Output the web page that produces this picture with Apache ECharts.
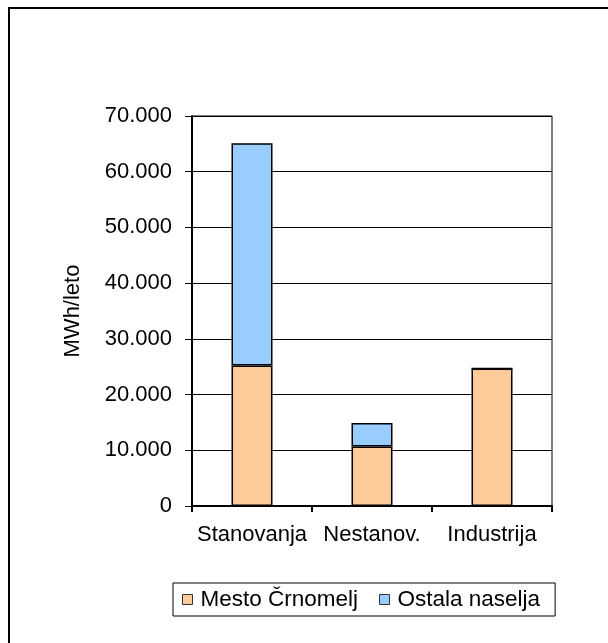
<!DOCTYPE html>
<html>
<head>
<meta charset="utf-8">
<script src="https://cdn.jsdelivr.net/npm/echarts@6/dist/echarts.min.js"></script>
<style>
html,body{margin:0;padding:0;background:#fff;}
#chart{width:608px;height:643px;}
</style>
</head>
<body>
<div id="chart"></div>
<script>
const categories = ['Stanovanja', 'Nestanov.', 'Industrija'];
const mestoCrnomelj = [25200, 10700, 24700];
const ostalaNaselja = [39900, 4200, 0];
const seriesNames = ['Mesto Črnomelj', 'Ostala naselja'];
const yTicks = [0, 10000, 20000, 30000, 40000, 50000, 60000, 70000];
const yTitle = 'MWh/leto';

const FONT = '"Liberation Sans", Arial, sans-serif';
const chart = echarts.init(document.getElementById('chart'));

function fmt(v) {
  return String(v).replace(/\B(?=(\d{3})+(?!\d))/g, '.');
}

chart.setOption({
  animation: false,
  backgroundColor: '#fff',
  graphic: [{
    type: 'rect',
    shape: { x: 9, y: 8, width: 700, height: 700 },
    style: { fill: 'none', stroke: '#000', lineWidth: 2 },
    silent: true
  }],
  grid: {
    left: 192, right: 56, top: 116, bottom: 137,
    show: true, borderColor: '#000', borderWidth: 1, backgroundColor: 'transparent'
  },
  legend: {
    left: 173, top: 583,
    padding: [5, 15, 5, 9],
    itemGap: 21,
    itemWidth: 10, itemHeight: 10,
    icon: 'rect',
    borderColor: '#000', borderWidth: 1,
    textStyle: { fontFamily: FONT, fontSize: 22.5, color: '#000', padding: [0, 0, 0, 3] },
    data: seriesNames.map(n => ({ name: n, itemStyle: { borderColor: '#333', borderWidth: 1 } }))
  },
  xAxis: {
    type: 'category',
    data: categories,
    axisLine: { show: true, lineStyle: { color: '#000', width: 2 } },
    axisTick: { show: true, length: 6, alignWithLabel: false, lineStyle: { color: '#000', width: 2 } },
    axisLabel: { interval: 0, margin: 18, fontFamily: FONT, fontSize: 22, color: '#000' },
    splitLine: { show: false }
  },
  yAxis: {
    type: 'value',
    min: yTicks[0], max: yTicks[yTicks.length - 1], interval: yTicks[1] - yTicks[0],
    name: yTitle,
    nameLocation: 'middle',
    nameGap: 108,
    nameTextStyle: { fontFamily: FONT, fontSize: 22, color: '#000' },
    axisLine: { show: true, lineStyle: { color: '#000', width: 2 } },
    axisTick: { show: true, length: 7, lineStyle: { color: '#000', width: 1 } },
    axisLabel: { margin: 20, fontFamily: FONT, fontSize: 22, color: '#000', formatter: fmt },
    splitLine: { show: true, lineStyle: { color: '#000', width: 1 } }
  },
  series: [
    {
      name: seriesNames[0], type: 'bar', stack: 'total', barWidth: 41,
      data: mestoCrnomelj,
      itemStyle: { color: '#FFCC99', borderColor: '#000', borderWidth: 1.5 }
    },
    {
      name: seriesNames[1], type: 'bar', stack: 'total', barWidth: 41,
      data: ostalaNaselja,
      itemStyle: { color: '#99CCFF', borderColor: '#000', borderWidth: 1.5 }
    }
  ]
});
</script>
</body>
</html>
